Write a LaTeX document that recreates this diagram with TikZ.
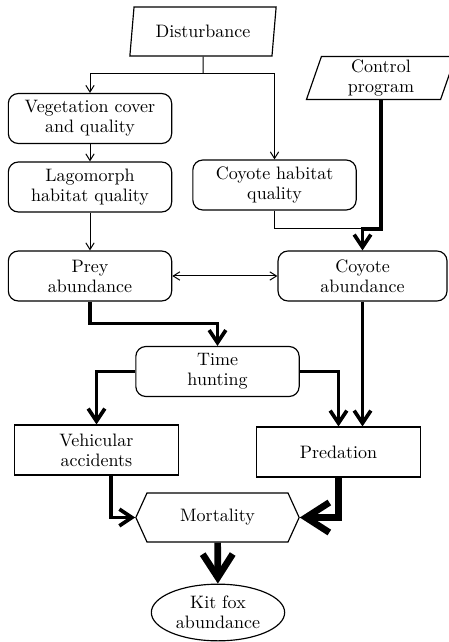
\documentclass[tikz,border=0pt]{standalone}
\usepackage{tikz}
\usetikzlibrary{arrows.meta,shapes.geometric,shapes.symbols}
\tikzset{
  rbox/.style={draw,line width=0.7pt,rounded corners=6pt,align=center,minimum width=98pt,minimum height=30pt,inner sep=2pt},
  sbox/.style={draw,line width=0.7pt,align=center,minimum width=98pt,minimum height=30pt,inner sep=2pt},
  io/.style={draw,line width=0.7pt,trapezium,trapezium stretches=true,align=center,inner sep=2pt},
  hexa/.style={draw,line width=0.7pt,signal,signal to=east and west,signal pointer angle=131,minimum width=98pt,minimum height=29.4pt,inner sep=2pt},
  oval/.style={draw,line width=0.7pt,ellipse,align=center,minimum width=80pt,minimum height=34pt,inner sep=1pt},
  arr/.style={-{Straight Barb[length=4pt,width=5pt]},line width=0.6pt},
  ln/.style={line width=0.6pt},
  darr/.style={{Straight Barb[length=4pt,width=5pt]}-{Straight Barb[length=4pt,width=5pt]},line width=0.6pt},
  tarr/.style={-{Straight Barb[length=7.5pt,width=10pt]},line width=2.2pt},
  barr/.style={-{Straight Barb[length=14pt,width=18pt]},line width=4pt},
}

\begin{document}
\begin{tikzpicture}[x=0.6pt,y=-0.6pt,font=\fontsize{10.8}{12}\selectfont]
\useasboundingbox (0,0) rectangle (448,642);
\node[io,trapezium left angle=81,trapezium right angle=99,minimum width=88.2pt,minimum height=29.4pt] (dist) at (203,31.5) {Disturbance};
\node[io,trapezium left angle=78,trapezium right angle=102,minimum width=90pt,minimum height=24pt] (ctrl) at (381,78) {Control\\program};
\node[rbox] (veg) at (90,118.5) {Vegetation cover\\and quality};
\node[rbox] (lago) at (90,187) {Lagomorph\\habitat quality};
\node[rbox] (chab) at (274.5,185) {Coyote habitat\\quality};
\node[rbox] (prey) at (90,276) {Prey\\abundance};
\node[rbox,minimum width=101.4pt] (coyab) at (362.5,276) {Coyote\\abundance};
\node[rbox] (time) at (217.5,371.5) {Time\\hunting};
\node[sbox] (veh) at (96.5,450) {Vehicular\\accidents};
\node[sbox] (pred) at (338.5,452) {Predation};
\node[hexa] (mort) at (217.5,517.5) {Mortality};
\node[oval] (kit) at (218,612.5) {Kit fox\\abundance};
\coordinate (split) at (203,74);
\coordinate (meet) at (362.5,229);
% thin links
\draw[ln] (dist.south) -- (split);
\draw[arr] (split) -| (veg.north);
\draw[arr] (split) -| (chab.north);
\draw[arr] (veg) -- (lago);
\draw[arr] (lago) -- (prey);
\draw[ln] (chab.south) |- (meet);
\draw[darr] (prey) -- (coyab);
% thick links
\draw[tarr] (ctrl.south) |- (meet) -- (coyab.north);
\draw[tarr] (prey.south) -- ++(0,22) -| (time.north);
\draw[tarr] (time.west) -| (veh.north);
\draw[tarr] (time.east) -| (pred.north);
\draw[tarr] (coyab.south) -- (coyab.south |- pred.north);
\draw[tarr] ([xshift=8.7pt]veh.south) |- (mort.west);
\draw[barr] (pred.south) |- (mort.east);
\draw[barr] (mort) -- (kit);
\end{tikzpicture}
\end{document}
